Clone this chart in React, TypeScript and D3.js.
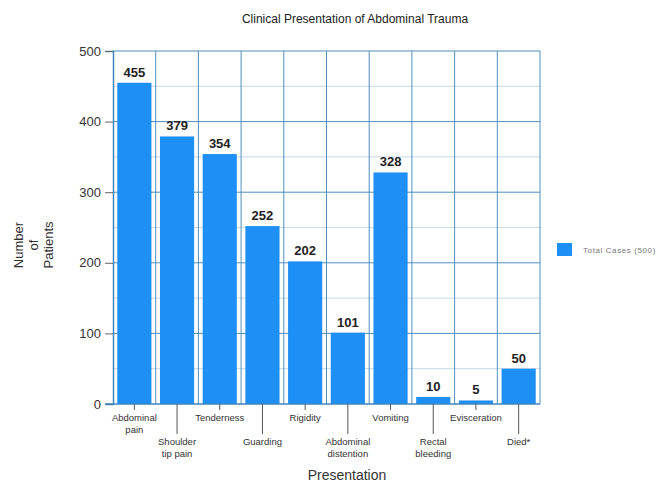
import React, { useEffect, useRef } from 'react';
import { axisLeft, range, scaleBand, scaleLinear, select } from 'd3';

const categories = [
  ['Abdominal', 'pain'],
  ['Shoulder', 'tip pain'],
  ['Tenderness'],
  ['Guarding'],
  ['Rigidity'],
  ['Abdominal', 'distention'],
  ['Vomiting'],
  ['Rectal', 'bleeding'],
  ['Evisceration'],
  ['Died*'],
];
const totalCases = [455, 379, 354, 252, 202, 101, 328, 10, 5, 50];
const yTicks = [0, 100, 200, 300, 400, 500];
const seriesName = 'Total Cases (500)';

const left = 113;
const right = 540;
const top = 51;
const bottom = 404;

const App: React.FC = () => {
  const svgRef = useRef<SVGSVGElement>(null);

  useEffect(() => {
    const svg = select(svgRef.current);
    svg.selectAll('*').remove();
    const font = 'Liberation Sans, Arial, sans-serif';

    const x = scaleBand<number>()
      .domain(range(categories.length))
      .range([left, right])
      .paddingInner(0)
      .paddingOuter(0);
    const y = scaleLinear().domain([0, 500]).range([bottom, top]);
    const barW = x.bandwidth() * 0.8;

    // Grid
    const grid = svg.append('g');
    grid
      .selectAll('.minor')
      .data(range(50, 500, 100))
      .join('line')
      .attr('x1', left)
      .attr('x2', right)
      .attr('y1', (d) => y(d))
      .attr('y2', (d) => y(d))
      .attr('stroke', '#c3d9e8')
      .attr('stroke-width', 1);
    grid
      .selectAll('.major')
      .data(yTicks.slice(1))
      .join('line')
      .attr('x1', left)
      .attr('x2', right)
      .attr('y1', (d) => y(d))
      .attr('y2', (d) => y(d))
      .attr('stroke', '#4f8fbd')
      .attr('stroke-width', 1);
    grid
      .selectAll('.vert')
      .data(range(1, categories.length + 1))
      .join('line')
      .attr('x1', (i) => left + i * x.bandwidth())
      .attr('x2', (i) => left + i * x.bandwidth())
      .attr('y1', top)
      .attr('y2', bottom)
      .attr('stroke', '#4f8fbd')
      .attr('stroke-width', 1);

    // Bars
    svg
      .append('g')
      .selectAll('rect')
      .data(totalCases)
      .join('rect')
      .attr('x', (_, i) => (x(i) as number) + (x.bandwidth() - barW) / 2)
      .attr('width', barW)
      .attr('y', (d) => y(d))
      .attr('height', (d) => bottom - y(d))
      .attr('fill', '#1e8ff5');

    // Value labels
    svg
      .append('g')
      .selectAll('text')
      .data(totalCases)
      .join('text')
      .attr('x', (_, i) => (x(i) as number) + x.bandwidth() / 2)
      .attr('y', (d) => y(d) - 6)
      .attr('text-anchor', 'middle')
      .attr('font-family', font)
      .attr('font-weight', 'bold')
      .attr('font-size', 13)
      .attr('fill', '#222')
      .text((d) => d);

    // Y axis
    const yAxis = svg
      .append('g')
      .attr('transform', `translate(${left},0)`)
      .call(axisLeft(y).tickValues(yTicks).tickSize(8).tickPadding(4));
    yAxis.select('.domain').attr('stroke', '#3f86c0').attr('stroke-width', 1.5);
    yAxis.selectAll('.tick line').attr('stroke', '#666');
    yAxis
      .selectAll('.tick text')
      .attr('font-family', font)
      .attr('font-size', 13)
      .attr('fill', '#333');

    // X axis line
    svg
      .append('line')
      .attr('x1', left - 8)
      .attr('x2', right)
      .attr('y1', bottom)
      .attr('y2', bottom)
      .attr('stroke', '#3f86c0')
      .attr('stroke-width', 1.5);

    // X ticks and staggered labels
    const xt = svg
      .append('g')
      .selectAll('g')
      .data(categories)
      .join('g')
      .attr('transform', (_, i) => `translate(${(x(i) as number) + x.bandwidth() / 2},${bottom})`);
    xt.append('line')
      .attr('y1', 0)
      .attr('y2', (_, i) => (i % 2 ? 30 : 6))
      .attr('stroke', '#555');
    xt.each(function (lines, i) {
      const g = select(this);
      const y0 = i % 2 ? 41 : 17;
      lines.forEach((t, k) => {
        g.append('text')
          .attr('y', y0 + k * 12)
          .attr('text-anchor', 'middle')
          .attr('font-family', font)
          .attr('font-size', 9.5)
          .attr('fill', '#333')
          .text(t);
      });
    });

    // Titles
    svg
      .append('text')
      .attr('x', 355)
      .attr('y', 23)
      .attr('text-anchor', 'middle')
      .attr('font-family', font)
      .attr('font-size', 12)
      .attr('fill', '#222')
      .text('Clinical Presentation of Abdominal Trauma');
    svg
      .append('text')
      .attr('x', 347)
      .attr('y', 480)
      .attr('text-anchor', 'middle')
      .attr('font-family', font)
      .attr('font-size', 14)
      .attr('fill', '#333')
      .text('Presentation');

    const yTitle = svg
      .append('text')
      .attr('transform', 'translate(38,245) rotate(-90)')
      .attr('text-anchor', 'middle')
      .attr('font-family', font)
      .attr('font-size', 13)
      .attr('fill', '#333');
    ['Number', 'of', 'Patients'].forEach((t, k) => {
      yTitle
        .append('tspan')
        .attr('x', 0)
        .attr('y', -15 + k * 15)
        .text(t);
    });

    // Legend
    svg
      .append('rect')
      .attr('x', 557)
      .attr('y', 243)
      .attr('width', 15)
      .attr('height', 13)
      .attr('fill', '#1e8ff5');
    svg
      .append('text')
      .attr('x', 583)
      .attr('y', 253)
      .attr('font-family', font)
      .attr('font-size', 8)
      .attr('letter-spacing', 0.6)
      .attr('fill', '#777')
      .text(seriesName);
  }, []);

  return (
    <svg
      ref={svgRef}
      width={667}
      height={484}
      style={{ position: 'absolute', left: 0, top: 0, background: '#fff' }}
    />
  );
};

export default App;
